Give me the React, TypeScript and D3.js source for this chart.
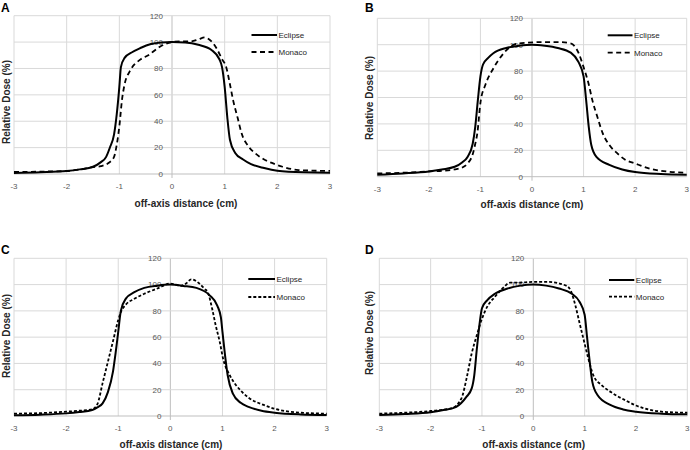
import React from "react";
import * as d3 from "d3";

type Pt = [number, number];

const xTicks = [-3, -2, -1, 0, 1, 2, 3];
const yTicks = [0, 20, 40, 60, 80, 100, 120];
const seriesNames = ["Eclipse", "Monaco"];
const panelLabels = ["A", "B", "C", "D"];
const xTitle = "off-axis distance (cm)";
const yTitle = "Relative Dose (%)";

const aEclipse: Pt[] = [[-3,0.8],[-2.5,1.3],[-2,2.2],[-1.75,3.5],[-1.5,5.5],[-1.35,9],[-1.25,13],[-1.18,20],[-1.1,30],[-1.05,45],[-1.0,66],[-0.97,81],[-0.9,88],[-0.75,92.5],[-0.6,95.5],[-0.4,98.5],[-0.2,99.7],[0,100],[0.25,99.7],[0.5,98],[0.75,94],[0.9,87],[0.95,81],[1.0,66],[1.05,43],[1.1,26],[1.2,16],[1.35,11],[1.5,7.5],[1.75,4.5],[2,2.5],[2.5,1.3],[3,1]];
const aMonaco: Pt[] = [[-3,1.5],[-2.5,1.8],[-2,2.2],[-1.75,3.5],[-1.5,5.2],[-1.35,6],[-1.2,8.5],[-1.1,13],[-1.05,22],[-1.0,36],[-0.95,56],[-0.9,68],[-0.8,78],[-0.61,86.5],[-0.45,90],[-0.23,96.5],[0,100],[0.15,100.5],[0.35,100.5],[0.5,102],[0.62,103.5],[0.75,100.5],[0.85,95],[0.95,87],[1.03,81],[1.1,68],[1.16,56],[1.25,42],[1.32,31],[1.45,21],[1.58,15.7],[1.75,11],[1.92,8],[2.1,5.5],[2.4,3],[3,2.3]];

const bEclipse: Pt[] = [[-3,1.5],[-2.5,2.5],[-2,4],[-1.75,5.5],[-1.5,7.5],[-1.35,11],[-1.25,15],[-1.15,25],[-1.1,38],[-1.05,58],[-1.0,76],[-0.95,85],[-0.85,90],[-0.75,93.5],[-0.5,97.5],[-0.25,99.2],[0,100],[0.25,99.2],[0.5,97.5],[0.75,94],[0.9,87],[1.0,76],[1.05,58],[1.1,38],[1.15,24],[1.25,15],[1.5,9],[1.75,5.5],[2,3.5],[2.5,2],[3,1.5]];
const bMonaco: Pt[] = [[-3,2.5],[-2.5,3],[-2,4],[-1.75,4.5],[-1.5,5.5],[-1.35,7],[-1.25,10],[-1.15,17],[-1.1,25],[-1.06,33],[-1.0,56],[-0.9,70],[-0.75,82],[-0.55,93.5],[-0.4,99],[-0.25,101],[-0.1,101.5],[0.2,102],[0.5,102],[0.75,101],[0.9,94],[1.0,83],[1.1,70],[1.17,58],[1.27,45],[1.37,33],[1.5,24],[1.66,17.5],[1.8,13],[2,10],[2.25,6.5],[2.5,4.5],[3,3]];

const cEclipse: Pt[] = [[-3,0.5],[-2.5,1],[-2,2],[-1.75,3],[-1.5,4.5],[-1.4,6.5],[-1.3,9.6],[-1.2,18],[-1.1,34],[-1.05,48],[-1.0,64],[-0.95,80],[-0.85,89.5],[-0.7,94],[-0.5,97.5],[-0.25,99.2],[0,100],[0.25,99],[0.5,97.5],[0.75,92],[0.9,84],[0.97,75],[1.0,64],[1.05,46],[1.1,31],[1.2,17],[1.35,10],[1.5,7],[1.75,4],[2,2.5],[2.5,1.2],[3,0.8]];
const cMonaco: Pt[] = [[-3,1.8],[-2.5,2.2],[-2,3.3],[-1.75,4],[-1.5,5],[-1.4,9],[-1.3,25],[-1.2,41],[-1.1,57],[-1.0,73],[-0.95,79],[-0.85,85],[-0.7,89],[-0.5,93],[-0.25,97],[0,100.8],[0.2,99],[0.3,100.8],[0.4,104],[0.55,101],[0.65,97],[0.72,94],[0.8,82],[0.87,69],[0.95,56],[1.01,44],[1.14,31],[1.25,24],[1.37,18.5],[1.5,14],[1.79,8.4],[2,5.5],[2.5,2.5],[3,1.8]];

const dEclipse: Pt[] = [[-3,0.8],[-2.5,1.5],[-2,2.8],[-1.75,4.5],[-1.5,7],[-1.3,14.7],[-1.2,21],[-1.15,31],[-1.1,51],[-1.05,69],[-1.0,82],[-0.9,88],[-0.75,93],[-0.5,97],[-0.25,99.2],[0,100],[0.25,99.2],[0.5,97],[0.75,93],[0.9,87],[1.0,77],[1.05,59],[1.1,41],[1.15,26],[1.25,16],[1.5,8.4],[1.75,5],[2,3.3],[2.5,1.8],[3,1.3]];
const dMonaco: Pt[] = [[-3,1.8],[-2.5,2.5],[-2,3.8],[-1.6,5.8],[-1.4,13.4],[-1.3,28.6],[-1.2,47.6],[-1.1,61.5],[-1.0,74],[-0.9,83],[-0.75,90.6],[-0.6,97],[-0.45,101.5],[-0.3,101.5],[0,102],[0.3,102],[0.65,99],[0.74,94.5],[0.82,84],[0.9,71],[1.0,55],[1.07,44],[1.17,31],[1.33,23.5],[1.52,18],[1.84,11],[2.0,8],[2.3,4.5],[2.6,3],[3,2.5]];

interface PanelCfg {
  label: string;
  eclipse: Pt[];
  monaco: Pt[];
  x0: number; x1: number; yTop: number; yBot: number;
  labelX: number; labelY: number;
  yTitleX: number; yTitleY: number;
  xTitleX: number; xTitleY: number;
  legX0: number; legX1: number; legY1: number; legY2: number;
  dash: string;
}

const panels: PanelCfg[] = [
  { label: panelLabels[0], eclipse: aEclipse, monaco: aMonaco, x0: 14, x1: 330, yTop: 15.7, yBot: 174, labelX: 1, labelY: 12, yTitleX: 6.5, yTitleY: 102, xTitleX: 186, xTitleY: 207, legX0: 251.5, legX1: 277, legY1: 35, legY2: 52, dash: "5,3.5" },
  { label: panelLabels[1], eclipse: bEclipse, monaco: bMonaco, x0: 377.3, x1: 686.7, yTop: 18.3, yBot: 176.7, labelX: 365, labelY: 12, yTitleX: 369, yTitleY: 98, xTitleX: 532, xTitleY: 208, legX0: 607.7, legX1: 632.5, legY1: 35.3, legY2: 52.7, dash: "5,3.5" },
  { label: panelLabels[2], eclipse: cEclipse, monaco: cMonaco, x0: 14, x1: 326.7, yTop: 258.3, yBot: 416, labelX: 1, labelY: 254, yTitleX: 6, yTitleY: 336, xTitleX: 171, xTitleY: 448, legX0: 248.3, legX1: 275, legY1: 279, legY2: 297, dash: "3,2" },
  { label: panelLabels[3], eclipse: dEclipse, monaco: dMonaco, x0: 379.3, x1: 687.3, yTop: 258.3, yBot: 416, labelX: 365, labelY: 254, yTitleX: 369, yTitleY: 333, xTitleX: 533.7, xTitleY: 448, legX0: 609, legX1: 634.3, legY1: 280, legY2: 296.7, dash: "3,2" },
];

const font = "'Liberation Sans', Arial, sans-serif";

function Panel({ p }: { p: PanelCfg }) {
  const x = d3.scaleLinear().domain([-3, 3]).range([p.x0, p.x1]);
  const y = d3.scaleLinear().domain([0, 120]).range([p.yBot, p.yTop]);
  const line = d3.line<Pt>().x((d) => x(d[0])).y((d) => y(d[1])).curve(d3.curveMonotoneX);
  return (
    <g>
      {xTicks.map((t) => (
        <line key={"vx" + t} x1={x(t)} x2={x(t)} y1={p.yTop} y2={p.yBot} stroke={t === 0 ? "#bfbfbf" : "#d9d9d9"} strokeWidth={1} />
      ))}
      {yTicks.map((t) => (
        <line key={"hy" + t} x1={p.x0} x2={p.x1} y1={y(t)} y2={y(t)} stroke={t === 0 ? "#bfbfbf" : "#d9d9d9"} strokeWidth={1} />
      ))}
      <line x1={x(0)} x2={x(0)} y1={p.yBot} y2={p.yBot + 4} stroke="#bfbfbf" />
      {yTicks.map((t) => (
        <text key={"yl" + t} x={x(0) - 9} y={y(t)} dy="0.35em" textAnchor="end" fontSize={8} fill="#595959" fontFamily={font}>{t}</text>
      ))}
      {xTicks.map((t) => (
        <text key={"xl" + t} x={x(t)} y={p.yBot + 12} dy="0.35em" textAnchor="middle" fontSize={8} fill="#595959" fontFamily={font}>{t}</text>
      ))}
      <path d={line(p.eclipse) || ""} fill="none" stroke="#000" strokeWidth={2} />
      <path d={line(p.monaco) || ""} fill="none" stroke="#000" strokeWidth={1.8} strokeDasharray={p.dash} />
      <line x1={p.legX0} x2={p.legX1} y1={p.legY1} y2={p.legY1} stroke="#000" strokeWidth={2} />
      <line x1={p.legX0} x2={p.legX1} y1={p.legY2} y2={p.legY2} stroke="#000" strokeWidth={1.8} strokeDasharray={p.dash} />
      <text x={p.legX1 + 1.5} y={p.legY1} dy="0.35em" fontSize={8} fill="#262626" fontFamily={font}>{seriesNames[0]}</text>
      <text x={p.legX1 + 1.5} y={p.legY2} dy="0.35em" fontSize={8} fill="#262626" fontFamily={font}>{seriesNames[1]}</text>
      <text x={p.xTitleX} y={p.xTitleY} textAnchor="middle" fontSize={10} fontWeight="bold" fill="#262626" fontFamily={font}>{xTitle}</text>
      <text transform={`translate(${p.yTitleX},${p.yTitleY}) rotate(-90)`} dy="0.35em" textAnchor="middle" fontSize={10} fontWeight="bold" fill="#262626" fontFamily={font}>{yTitle}</text>
      <text x={p.labelX} y={p.labelY} fontSize={12} fontWeight="bold" fill="#000" fontFamily={font}>{p.label}</text>
    </g>
  );
}

export default function App() {
  return (
    <svg width={690} height={450} style={{ position: "absolute", left: 0, top: 0, background: "#fff" }}>
      <rect x={0} y={0} width={690} height={450} fill="#fff" />
      {panels.map((p) => (
        <Panel key={p.label} p={p} />
      ))}
    </svg>
  );
}
